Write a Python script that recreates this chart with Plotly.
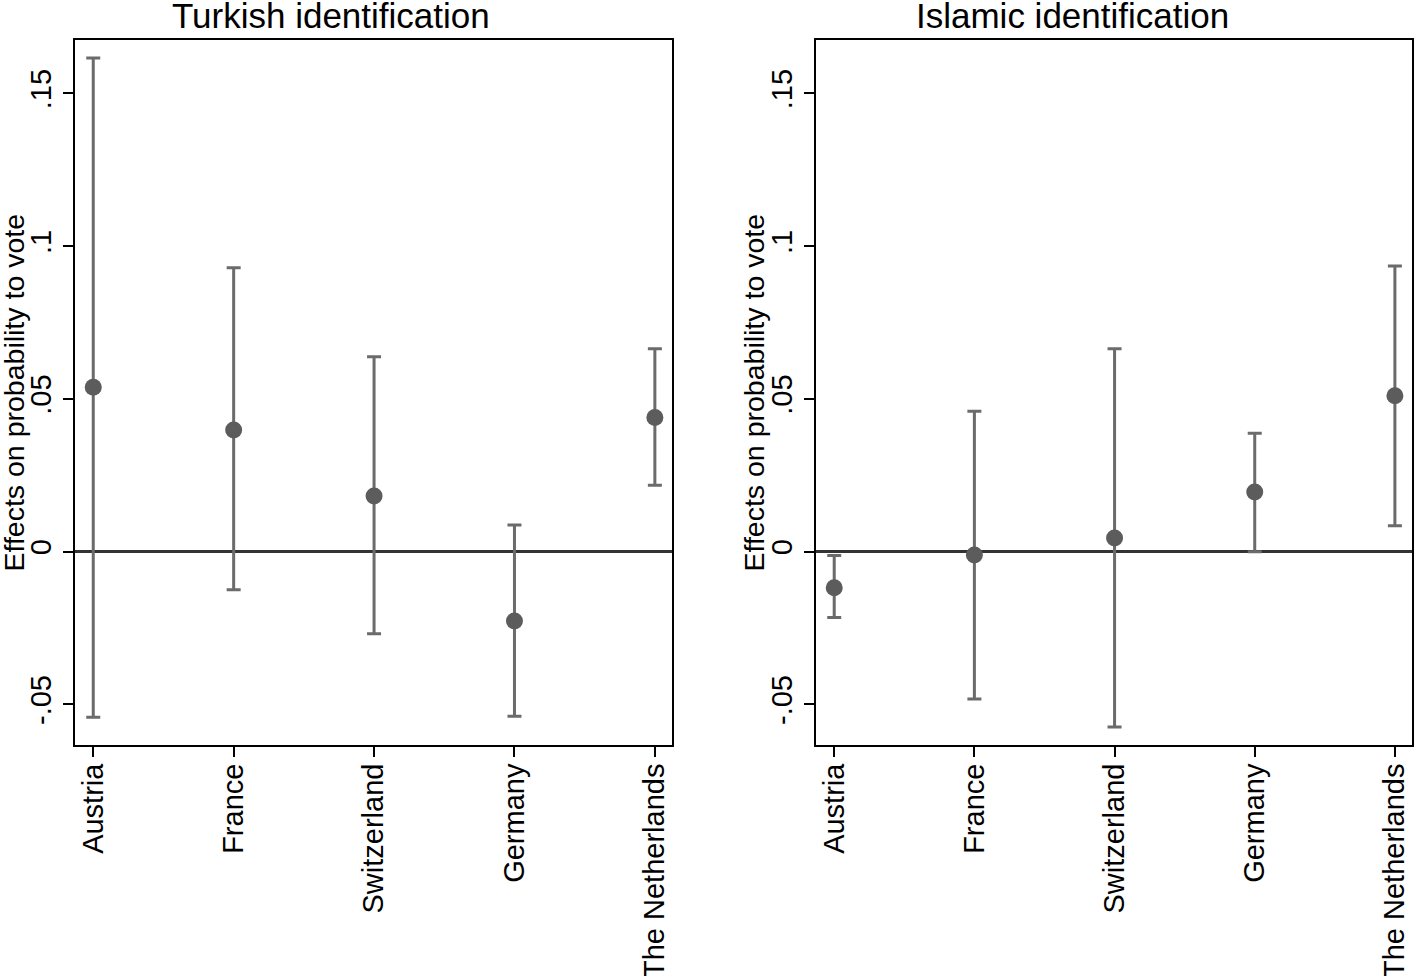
import plotly.graph_objects as go

countries = ["Austria", "France", "Switzerland", "Germany", "The Netherlands"]

turkish_est = [0.0538, 0.0398, 0.0182, -0.0227, 0.0439]
turkish_lo = [-0.0542, -0.0125, -0.0269, -0.0539, 0.0217]
turkish_hi = [0.1616, 0.0929, 0.0638, 0.0087, 0.0664]

islamic_est = [-0.0118, -0.0011, 0.0045, 0.0195, 0.0510]
islamic_lo = [-0.0216, -0.0482, -0.0574, 0.0000, 0.0085]
islamic_hi = [-0.0013, 0.0460, 0.0664, 0.0388, 0.0935]

panel_titles = ["Turkish identification", "Islamic identification"]
ytick_vals = [-0.05, 0, 0.05, 0.1, 0.15]
ytick_text = ["-.05", "0", ".05", ".1", ".15"]
ylabel = "Effects on probability to vote"

W, H = 1414, 976
FONT = "Liberation Sans, Arial, Helvetica, sans-serif"

fig = go.Figure()

panels = [
    (turkish_est, turkish_lo, turkish_hi, "x", "y"),
    (islamic_est, islamic_lo, islamic_hi, "x2", "y2"),
]
xs = list(range(len(countries)))
for est, lo, hi, xa, ya in panels:
    fig.add_trace(go.Scatter(
        x=xs, y=est, mode="markers", xaxis=xa, yaxis=ya,
        marker=dict(size=17, color="#5c5c5c"),
        error_y=dict(type="data", symmetric=False,
                     array=[h - e for h, e in zip(hi, est)],
                     arrayminus=[e - l for e, l in zip(est, lo)],
                     color="#6b6b6b", thickness=3, width=7),
        showlegend=False,
    ))

px_domains = [(75, 672), (816, 1412)]
ytop, ybot = 40, 745
ydom = [(H - ybot) / H, (H - ytop) / H]

axis_common = dict(
    showline=True, linecolor="black", linewidth=2, mirror=True,
    ticks="outside", ticklen=10, tickwidth=2, tickcolor="black",
    showgrid=False, tickfont=dict(family=FONT, size=29, color="black"),
    automargin=False,
)

for i, (a, b) in enumerate(px_domains):
    sfx = "" if i == 0 else str(i + 1)
    fig.update_layout(**{
        "xaxis" + sfx: dict(
            domain=[a / W, b / W], range=[-0.13, 4.122],
            tickvals=xs, ticktext=countries, tickangle=-90,
            ticklabelstandoff=-5,
            anchor="y" + sfx, zeroline=False, **axis_common),
        "yaxis" + sfx: dict(
            domain=ydom, range=[-0.0633, 0.1675],
            tickvals=ytick_vals, ticktext=ytick_text, tickangle=-90,
            anchor="x" + sfx, zeroline=True, zerolinecolor="#333333",
            zerolinewidth=3, **axis_common),
    })

annotations = []
title_x = [331, 1072]
ylab_x = [13, 753]
for i in range(2):
    annotations.append(dict(
        text=panel_titles[i], xref="paper", yref="paper",
        x=title_x[i] / W, y=(H - 15) / H, xanchor="center", yanchor="middle",
        showarrow=False, font=dict(family=FONT, size=35, color="black")))
    annotations.append(dict(
        text=ylabel, xref="paper", yref="paper",
        x=ylab_x[i] / W, y=(H - (ytop + ybot) / 2) / H,
        xanchor="center", yanchor="middle", textangle=-90,
        showarrow=False, font=dict(family=FONT, size=28.5, color="black")))

fig.update_layout(
    width=W, height=H, margin=dict(l=0, r=0, t=0, b=0),
    paper_bgcolor="white", plot_bgcolor="white",
    annotations=annotations,
)

fig.write_html(
    "out.html",
    config={"displayModeBar": False},
    post_script="document.body.style.margin='0';document.body.style.padding='0';"
                "document.body.style.overflow='hidden';",
)
